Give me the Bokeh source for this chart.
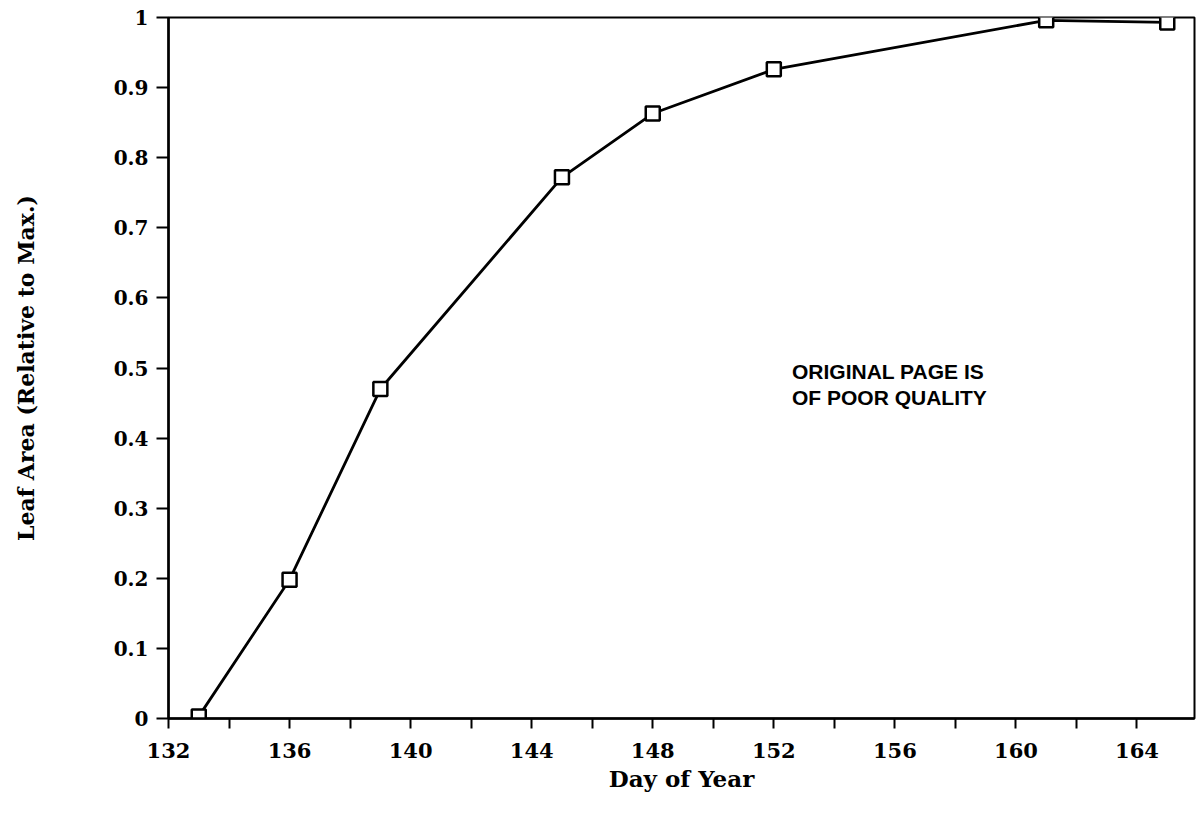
from bokeh.plotting import figure
from bokeh.models import FixedTicker, Range1d, Label
from bokeh.embed import file_html
from bokeh.resources import INLINE

day = [133, 136, 139, 145, 148, 152, 161, 165]
leaf_area = [0.003, 0.198, 0.47, 0.772, 0.863, 0.926, 0.996, 0.993]
x_ticks = [132, 136, 140, 144, 148, 152, 156, 160, 164]
x_minor = [134, 138, 142, 146, 150, 154, 158, 162]
y_ticks = [0, 0.1, 0.2, 0.3, 0.4, 0.5, 0.6, 0.7, 0.8, 0.9, 1.0]
y_labels = {0: "0", 0.1: "0.1", 0.2: "0.2", 0.3: "0.3", 0.4: "0.4", 0.5: "0.5",
            0.6: "0.6", 0.7: "0.7", 0.8: "0.8", 0.9: "0.9", 1.0: "1"}
x_title = "Day of Year"
y_title = "Leaf Area (Relative to Max.)"
note_lines = ["ORIGINAL  PAGE IS", "OF  POOR  QUALITY"]

p = figure(width=1196, height=816, output_backend="svg", toolbar_location=None,
           x_range=Range1d(132, 165.9), y_range=Range1d(0, 1),
           min_border_left=168, min_border_right=2, min_border_top=17, min_border_bottom=98)
p.grid.visible = False
p.background_fill_color = "white"
p.border_fill_color = "white"
p.outline_line_color = "black"
p.outline_line_width = 2

p.line(day, leaf_area, line_color="black", line_width=2.8)
p.scatter(day, leaf_area, marker="square", size=14, fill_color="white",
          line_color="black", line_width=2.5)

font = "DejaVu Serif"
xa = p.xaxis[0]
xa.ticker = FixedTicker(ticks=x_ticks, minor_ticks=x_minor)
xa.axis_label = x_title
ya = p.yaxis[0]
ya.ticker = FixedTicker(ticks=y_ticks, minor_ticks=[])
ya.major_label_overrides = y_labels
ya.axis_label = y_title

for ax in (xa, ya):
    ax.axis_line_color = "black"
    ax.axis_line_width = 2.5
    ax.major_tick_line_color = "black"
    ax.minor_tick_line_color = "black"
    ax.major_tick_line_width = 2
    ax.minor_tick_line_width = 2
    ax.major_tick_in = 0
    ax.minor_tick_in = 0
    ax.major_label_text_font = font
    ax.major_label_text_font_style = "bold"
    ax.major_label_text_color = "black"
    ax.axis_label_text_font = font
    ax.axis_label_text_font_style = "bold"
    ax.axis_label_text_color = "black"

xa.major_tick_out = 10
xa.minor_tick_out = 10
xa.major_label_text_font_size = "21px"
xa.major_label_standoff = 14
xa.axis_label_text_font_size = "23px"
xa.axis_label_standoff = 4

ya.major_tick_out = 12
ya.minor_tick_out = 0
ya.major_label_text_font_size = "20px"
ya.major_label_standoff = 8
ya.axis_label_text_font_size = "22px"
ya.axis_label_standoff = 72

for i, txt in enumerate(note_lines):
    p.add_layout(Label(x=152.6, y=0.479 - i * 0.037, text=txt,
                       text_font="Liberation Sans", text_font_style="bold",
                       text_font_size="21px", text_color="black"))

open("out.html", "w").write(file_html(p, INLINE))
